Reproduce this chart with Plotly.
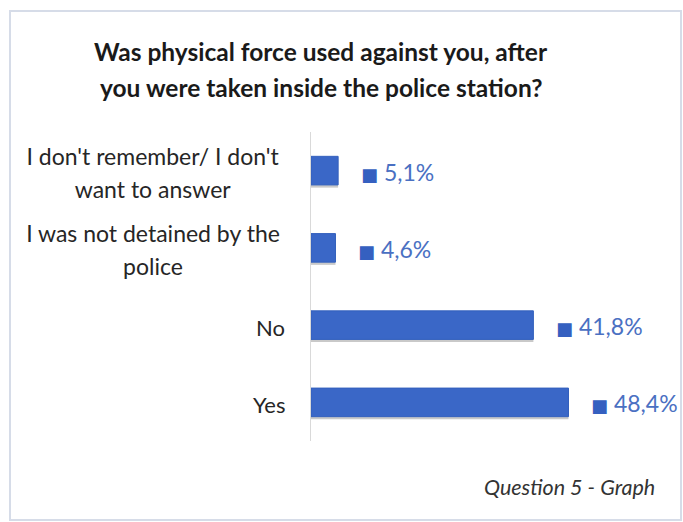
import plotly.graph_objects as go

# Survey responses, bottom to top
categories = [
    "Yes",
    "No",
    "I was not detained by the<br>police",
    "I don't remember/ I don't<br>want to answer",
]
values = [48.4, 41.8, 4.6, 5.1]
value_labels = [f"{v:.1f}".replace(".", ",") + "%" for v in values]

title_lines = [
    "Was physical force used against you, after",
    "you were taken inside the police station?",
]
caption = "Question 5 - Graph"

W, H = 683, 522
FONT = "Lato, 'DejaVu Sans', sans-serif"
BAR_BLUE = "#3a67c7"
LABEL_BLUE = "#4a70c2"
BAR_WIDTH = 0.37

fig = go.Figure()

# soft drop shadow under each bar
fig.add_trace(go.Bar(
    x=values, y=categories, orientation="h",
    width=BAR_WIDTH, offset=-BAR_WIDTH / 2 - 0.035,
    marker=dict(color="rgba(60,60,60,0.28)", line=dict(width=0)),
    hoverinfo="skip", showlegend=False,
))
fig.add_trace(go.Bar(
    x=values, y=categories, orientation="h",
    width=BAR_WIDTH, offset=-BAR_WIDTH / 2,
    marker=dict(color=BAR_BLUE, line=dict(color="#3360bd", width=1)),
    showlegend=False,
))

annotations = []

# value labels with a small legend key square
for cat, v, lab in zip(categories, values, value_labels):
    annotations.append(dict(
        x=v, y=cat, xref="x", yref="y", xanchor="left", yanchor="middle",
        xshift=21, yshift=-1, showarrow=False,
        text=f"<span style='color:#3560c0;font-size:18px'>■</span> {lab}",
        font=dict(family=FONT, size=23, color=LABEL_BLUE),
    ))

# category labels, centred lines with wide line spacing
LABEL_BOX = 264
for cat in categories:
    lines = cat.split("<br>")
    n = len(lines)
    for i, line in enumerate(lines):
        shift = (n - 1) / 2 * 33 - i * 33 - 2
        annotations.append(dict(
            x=0, y=cat, xref="x", yref="y", xanchor="right", yanchor="middle",
            xshift=-24, yshift=shift, showarrow=False,
            width=LABEL_BOX if n > 1 else None,
            align="center" if n > 1 else "right",
            text=line,
            font=dict(family=FONT, size=23 if n > 1 else 22, color="#262626"),
        ))

# two-line title
for i, line in enumerate(title_lines):
    annotations.append(dict(
        x=321 / W, y=1 - (52 + 36 * i) / H, xref="paper", yref="paper",
        xanchor="center", yanchor="middle", showarrow=False,
        text=f"<b>{line}</b>",
        font=dict(family=FONT, size=24.5, color="#1a1a1a"),
    ))

annotations.append(dict(
    x=657 / W, y=1 - 487 / H, xref="paper", yref="paper",
    xanchor="right", yanchor="middle", showarrow=False,
    text=f"<i>{caption}</i>",
    font=dict(family=FONT, size=21.5, color="#333333"),
))

px_per_pct = 5.32
fig.update_layout(
    width=W, height=H,
    margin=dict(l=0, r=0, t=0, b=0),
    paper_bgcolor="white", plot_bgcolor="white",
    barmode="overlay",
    xaxis=dict(
        domain=[311 / W, 1], range=[0, (W - 311) / px_per_pct],
        visible=False, fixedrange=True,
    ),
    yaxis=dict(
        domain=[1 - 441 / H, 1 - 132 / H],
        range=[-0.5, 3.5],
        showticklabels=False, ticks="",
        showgrid=False, zeroline=False,
        showline=True, linecolor="#d9d9d9", linewidth=1,
        fixedrange=True,
    ),
    annotations=annotations,
    shapes=[dict(
        type="rect", xref="paper", yref="paper",
        x0=10 / W, x1=681 / W, y0=1 - 520 / H, y1=1 - 11 / H,
        line=dict(color="#d6dce8", width=2),
        fillcolor="rgba(0,0,0,0)", layer="below",
    )],
)

fig.write_html("out.html")
